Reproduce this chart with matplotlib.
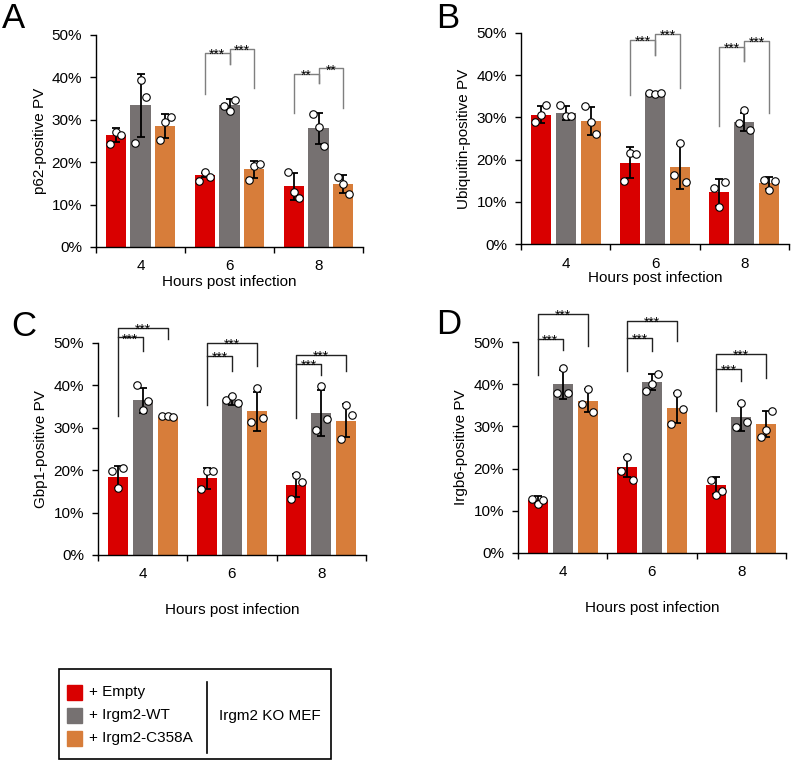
import matplotlib.pyplot as plt
from matplotlib.patches import Rectangle

plt.rcParams['font.family'] = ['Liberation Sans', 'DejaVu Sans']
plt.rcParams['font.size'] = 11

hours = ['4', '6', '8']
groups = ['+ Empty', '+ Irgm2-WT', '+ Irgm2-C358A']
colors = ['#d90000', '#767171', '#d77d3a']

# values per group (Empty, WT, C358A), each over 4h/6h/8h
p62_mean = [[26.4, 16.9, 14.3], [33.4, 33.4, 28.0], [28.6, 18.3, 14.8]]
p62_sd = [[1.7, 0.5, 3.1], [7.5, 1.4, 3.7], [2.8, 2.0, 2.1]]
p62_pts = [[[24.3, 27.2, 26.5], [15.5, 17.6, 16.5], [17.6, 13.0, 11.6]],
           [[24.6, 39.4, 35.4], [33.2, 32.1, 34.6], [31.3, 28.3, 23.9]],
           [[25.2, 29.4, 30.7], [15.7, 19.1, 19.5], [16.5, 14.8, 12.4]]]

ub_mean = [[30.6, 19.3, 12.3], [31.0, 35.8, 28.9], [29.1, 18.3, 14.4]]
ub_sd = [[2.0, 3.7, 3.2], [1.6, 0.2, 2.2], [3.3, 5.3, 1.4]]
ub_pts = [[[28.9, 30.6, 33.0], [15.0, 21.6, 21.4], [13.3, 8.7, 14.8]],
          [[33.0, 30.4, 30.4], [35.8, 35.6, 35.9], [28.7, 31.7, 27.1]],
          [[32.8, 28.8, 26.1], [16.4, 23.9, 14.6], [15.2, 12.9, 15.0]]]

gbp_mean = [[18.5, 18.1, 16.4], [36.5, 36.5, 33.5], [32.6, 33.9, 31.7]]
gbp_sd = [[2.6, 2.5, 2.8], [2.9, 1.1, 5.4], [0.3, 4.6, 3.8]]
gbp_pts = [[[19.7, 15.9, 20.6], [15.6, 19.8, 19.8], [13.1, 18.9, 17.3]],
           [[40.2, 34.1, 36.4], [36.5, 37.4, 35.8], [29.5, 39.8, 32.1]],
           [[32.8, 32.8, 32.6], [31.3, 39.4, 32.2], [27.4, 35.4, 33.1]]]

irg_mean = [[12.6, 20.4, 16.0], [40.0, 40.5, 32.2], [36.1, 34.4, 30.5]]
irg_sd = [[1.0, 2.4, 2.1], [3.4, 1.9, 3.2], [2.7, 3.6, 3.1]]
irg_pts = [[[12.8, 11.5, 12.6], [19.4, 22.7, 17.4], [17.4, 13.8, 14.8]],
           [[37.8, 43.8, 37.8], [38.5, 40.0, 42.3], [29.9, 35.5, 31.0]],
           [[35.3, 38.9, 33.3], [30.6, 37.8, 34.2], [27.5, 29.2, 33.6]]]

# significance brackets
# side-by-side: (hour, red_bottom, left_top, wt_bottom, right_top, c358a_bottom, stars)
p62_sig = [(1, 36.1, 45.7, 43.2, 46.7, 37.5, '***'), (2, 31.5, 40.9, 38.6, 42.1, 32.7, '**')]
ub_sig = [(1, 35.2, 48.4, 44.9, 49.7, 37.0, '***'), (2, 27.9, 46.7, 43.3, 48.1, 31.0, '***')]
# nested: (hour, red_bottom, inner_top, wt_bottom, outer_top, c358a_bottom)
gbp_sig = [(0, 32.8, 51.3, 48.0, 53.5, 50.9), (1, 35.4, 46.9, 43.5, 50.0, 44.5),
           (2, 32.3, 45.1, 42.5, 47.2, 43.3)]
irg_sig = [(0, 42.2, 50.7, 48.0, 56.6, 49.1), (1, 43.2, 51.0, 47.8, 55.0, 50.2),
           (2, 33.6, 43.6, 40.8, 47.1, 41.4)]

W, H = 791, 762
fig = plt.figure(figsize=(W / 100, H / 100), dpi=100)

SPACING = 0.28
BAR_W = 0.225
JIT = [-0.065, 0.0, 0.065]


def xpos(h, g):
    return h + 0.5 + (g - 1) * SPACING


def px_axes(l, t, r, b):
    return fig.add_axes([l / W, 1 - b / H, (r - l) / W, (b - t) / H])


def stars(ax, x, y, s, color):
    ax.annotate(s, (x, y), xytext=(0, -4.2), textcoords='offset points',
                ha='center', va='baseline', fontsize=10, color=color,
                annotation_clip=False)


def panel(box, mean, sd, pts, ylabel, xlab_y):
    ax = px_axes(*box)
    for g in range(3):
        xs = [xpos(h, g) for h in range(3)]
        ax.bar(xs, mean[g], width=BAR_W, color=colors[g], zorder=2)
        ax.errorbar(xs, mean[g], yerr=sd[g], fmt='none', ecolor='black',
                    elinewidth=1.3, capsize=3, capthick=1.3, zorder=3)
        for h in range(3):
            ax.plot([xs[h] + j for j in JIT], pts[g][h], 'o', ms=5.4,
                    mfc='white', mec='black', mew=0.8, zorder=4)
    ax.set_xlim(0, 3)
    ax.set_ylim(0, 50)
    ax.spines[['top', 'right']].set_visible(False)
    ax.spines[['left', 'bottom']].set_linewidth(1.0)
    ax.set_yticks(range(0, 51, 10))
    ax.set_yticklabels([f'{v}%' for v in range(0, 51, 10)])
    ax.tick_params(axis='y', length=4, width=1.0, pad=6, labelsize=11)
    ax.set_xticks([0, 1, 2, 3])
    ax.set_xticklabels([])
    ax.tick_params(axis='x', which='major', length=4, width=1.0)
    ax.set_xticks([0.5, 1.5, 2.5], minor=True)
    ax.set_xticklabels(hours, minor=True)
    ax.tick_params(axis='x', which='minor', length=0, pad=9, labelsize=11)
    ax.set_ylabel(ylabel, fontsize=11)
    ax.yaxis.set_label_coords(-0.185, 0.5)
    ax.set_xlabel('Hours post infection', fontsize=11)
    ax.xaxis.set_label_coords(0.5, xlab_y)
    return ax


def side_brackets(ax, sig, color='#7f7f7f'):
    for h, rb, lt, mb, rt, ob, s in sig:
        xr, xg, xo = xpos(h, 0), xpos(h, 1), xpos(h, 2)
        ax.plot([xr, xr, xg, xg], [rb, lt, lt, mb], color=color, lw=1, clip_on=False)
        ax.plot([xg, xg, xo, xo], [mb, rt, rt, ob], color=color, lw=1, clip_on=False)
        stars(ax, (xr + xg) / 2, lt, s, 'black')
        stars(ax, (xg + xo) / 2, rt, s, 'black')


def nested_brackets(ax, sig, color='#222222'):
    for h, rb, it, gb, ot, ob in sig:
        xr, xg, xo = xpos(h, 0), xpos(h, 1), xpos(h, 2)
        ax.plot([xr, xr, xo, xo], [rb, ot, ot, ob], color=color, lw=1, clip_on=False)
        ax.plot([xr, xg, xg], [it, it, gb], color=color, lw=1, clip_on=False)
        stars(ax, (xr + xg) / 2, it, '***', 'black')
        stars(ax, (xr + xo) / 2, ot, '***', 'black')


ax_a = panel((96, 35, 363, 247), p62_mean, p62_sd, p62_pts, 'p62-positive PV', -0.13)
side_brackets(ax_a, p62_sig)
ax_b = panel((521, 33, 789, 244), ub_mean, ub_sd, ub_pts, 'Ubiquitin-positive PV', -0.13)
side_brackets(ax_b, ub_sig)
ax_c = panel((98, 343, 366, 555), gbp_mean, gbp_sd, gbp_pts, 'Gbp1-positive PV', -0.227)
nested_brackets(ax_c, gbp_sig)
ax_d = panel((518, 342, 786, 553), irg_mean, irg_sd, irg_pts, 'Irgb6-positive PV', -0.227)
nested_brackets(ax_d, irg_sig)

for lab, x, y in [('A', 2, 2), ('B', 436, 2), ('C', 11, 310), ('D', 436, 308)]:
    fig.text(x / W, 1 - y / H, lab, fontsize=25, ha='left', va='top')

# legend box drawn in pixel coordinates
lg = fig.add_axes([0, 0, 1, 1], zorder=-1)
lg.set_xlim(0, W)
lg.set_ylim(H, 0)
lg.axis('off')
lg.add_patch(Rectangle((59, 669), 331 - 59, 90, fill=False, ec='black', lw=1.2))
lg.plot([207, 207], [682, 753], color='black', lw=1.2)
for i, (name, col) in enumerate(zip(groups, colors)):
    y = 692 + 23 * i
    lg.add_patch(Rectangle((67, y - 7.5), 15, 15, color=col))
    lg.text(89, y, name, fontsize=11, va='center', ha='left')
lg.text(270, 716, 'Irgm2 KO MEF', fontsize=11, va='center', ha='center')

fig.savefig('out.png', dpi=100)
